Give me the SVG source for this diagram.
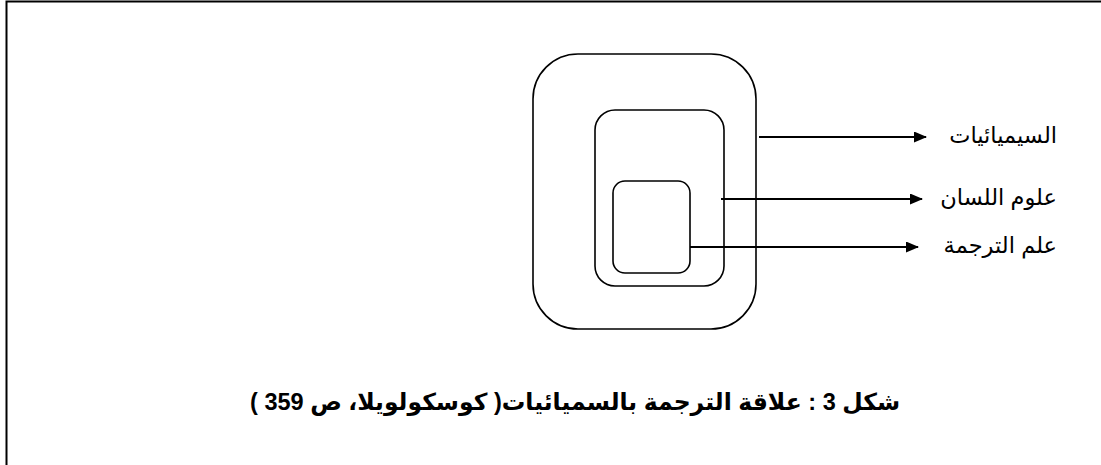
<svg xmlns="http://www.w3.org/2000/svg" width="1101" height="465" viewBox="0 0 1101 465">
<style>
.box{fill:none;stroke:#000;stroke-width:1.6}
.conn{stroke:#000;stroke-width:2;fill:none}
.lbl{font-family:"Liberation Sans","DejaVu Sans",sans-serif;font-size:22.5px;fill:#000}
.cap{font-family:"Liberation Sans","DejaVu Sans",sans-serif;font-size:23.5px;font-weight:bold;fill:#000}
</style>
<defs>
<marker id="ah" markerWidth="13" markerHeight="11" refX="12" refY="5.5" orient="auto" markerUnits="userSpaceOnUse">
<path d="M0,0 L13,5.5 L0,11 Z" fill="#000"/>
</marker>
</defs>
<rect x="0" y="0" width="1101" height="465" fill="#fff"/>
<path d="M6.5,465 V1.5 H1101" fill="none" stroke="#000" stroke-width="2"/>
<g id="semiotics"><rect class="box" x="533" y="54" width="223" height="275" rx="45" ry="45"/></g>
<g id="linguistics"><rect class="box" x="595" y="110" width="129" height="176" rx="20" ry="20"/></g>
<g id="translation"><rect class="box" x="613" y="181" width="77" height="92" rx="12" ry="12"/></g>
<g id="connectors">
<line class="conn" x1="759" y1="137" x2="926" y2="137" marker-end="url(#ah)"/>
<line class="conn" x1="721" y1="199" x2="922" y2="199" marker-end="url(#ah)"/>
<line class="conn" x1="690" y1="247" x2="918" y2="247" marker-end="url(#ah)"/>
</g>
<g id="labels">
<text class="lbl" x="1057" y="143" text-anchor="end">السيميائيات</text>
<text class="lbl" x="1057" y="205" text-anchor="end">علوم اللسان</text>
<text class="lbl" x="1057" y="253" text-anchor="end">علم الترجمة</text>
</g>
<g id="caption">
<text class="cap" x="900" y="410" direction="rtl" unicode-bidi="embed" text-anchor="start">شكل 3 : علاقة الترجمة بالسميائيات( كوسكولويلا، ص 359 )</text>
</g>
</svg>
